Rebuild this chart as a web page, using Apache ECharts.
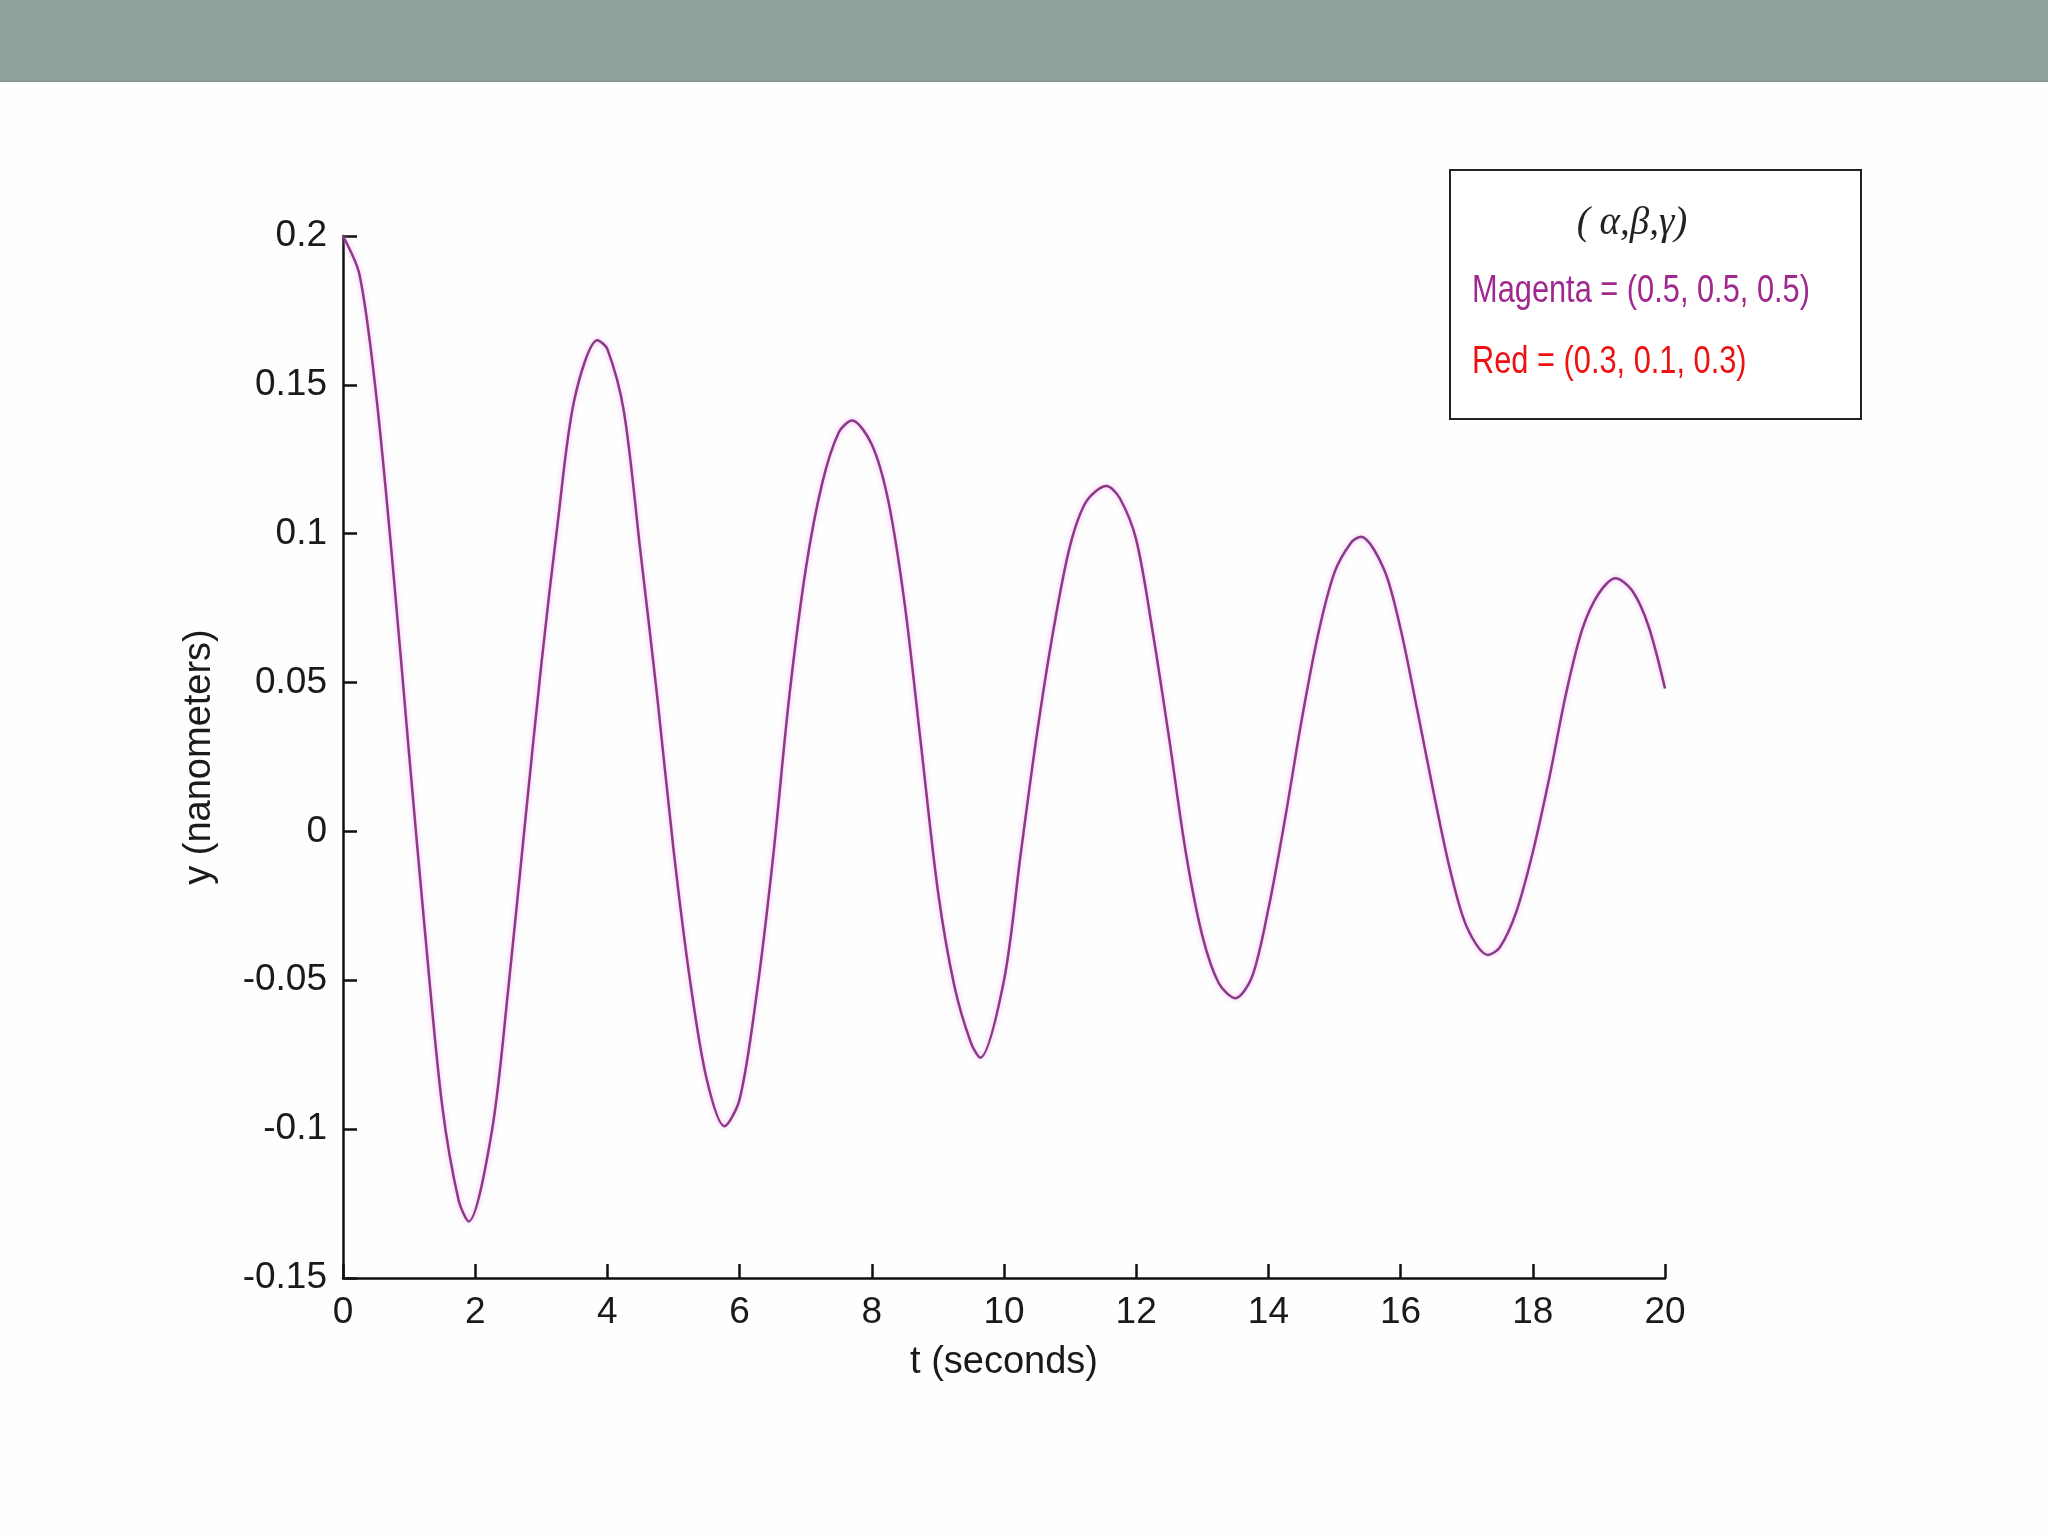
<!DOCTYPE html>
<html>
<head>
<meta charset="utf-8">
<script src="https://cdn.jsdelivr.net/npm/echarts@6/dist/echarts.min.js"></script>
<style>
html,body{margin:0;padding:0;background:#fff;}
#chart{width:2048px;height:1536px;}
</style>
</head>
<body>
<div id="chart"></div>
<script>
// time (s)
var times = [0,0.25,0.5,0.75,1.0,1.25,1.5,1.75,1.9,2.25,2.5,2.75,3.0,3.25,3.5,3.85,4.0,4.25,4.5,4.75,5.0,5.25,5.5,5.77,6.0,6.25,6.5,6.75,7.0,7.25,7.5,7.7,8.0,8.25,8.5,8.75,9.0,9.25,9.5,9.64,10.0,10.25,10.5,10.75,11.0,11.25,11.55,11.75,12.0,12.25,12.5,12.75,13.0,13.25,13.5,13.75,14.0,14.25,14.5,14.75,15.0,15.25,15.4,15.75,16.0,16.25,16.5,16.75,17.0,17.32,17.5,17.75,18.0,18.25,18.5,18.75,19.0,19.25,19.5,19.75,20.0];
// y (nanometers), magenta curve
var magentaY = [0.200,0.187,0.147,0.090,0.026,-0.036,-0.092,-0.124,-0.131,-0.101,-0.053,0.002,0.056,0.104,0.145,0.165,0.162,0.141,0.094,0.046,-0.006,-0.050,-0.083,-0.099,-0.090,-0.056,-0.010,0.045,0.088,0.117,0.134,0.138,0.130,0.111,0.076,0.028,-0.020,-0.052,-0.071,-0.076,-0.050,-0.008,0.033,0.068,0.096,0.111,0.116,0.112,0.098,0.067,0.031,-0.007,-0.035,-0.051,-0.056,-0.049,-0.026,0.004,0.037,0.066,0.087,0.097,0.099,0.088,0.068,0.041,0.013,-0.013,-0.032,-0.0415,-0.039,-0.027,-0.007,0.018,0.046,0.068,0.080,0.085,0.081,0.069,0.048];
var xTicks = [0,2,4,6,8,10,12,14,16,18,20];
var yTicks = [-0.15,-0.1,-0.05,0,0.05,0.1,0.15,0.2];
var legendTitle = '( \u03B1,\u03B2,\u03B3)';
var legendLines = ['Magenta = (0.5, 0.5, 0.5)', 'Red = (0.3, 0.1, 0.3)'];
var xName = 't (seconds)';
var yName = 'y (nanometers)';

var pts = times.map(function(t,i){return [t, magentaY[i]];});
var chart = echarts.init(document.getElementById('chart'), null, {renderer:'canvas'});
var font = '"Liberation Sans", Arial, sans-serif';
var axisCommon = {
  axisLine:{show:true,onZero:false,lineStyle:{color:'#111',width:2.5}},
  axisTick:{show:true,inside:true,length:14,lineStyle:{color:'#111',width:2.5}},
  splitLine:{show:false},
  axisLabel:{color:'#1a1a1a',fontSize:37,fontFamily:font,margin:16},
  nameTextStyle:{color:'#1a1a1a',fontSize:38,fontFamily:font}
};
chart.setOption({
  animation:false,
  backgroundColor:'#fefefe',
  grid:{left:343,top:236,right:383,bottom:258,containLabel:false},
  xAxis:Object.assign({},axisCommon,{
    type:'value',min:xTicks[0],max:xTicks[xTicks.length-1],interval:2,
    name:xName,nameLocation:'middle',nameGap:66,
    axisLabel:Object.assign({},axisCommon.axisLabel,{formatter:function(v){return String(v);}})
  }),
  yAxis:Object.assign({},axisCommon,{
    type:'value',min:yTicks[0],max:yTicks[yTicks.length-1],interval:0.05,
    name:yName,nameLocation:'middle',nameGap:124,nameRotate:90,
    axisLabel:Object.assign({},axisCommon.axisLabel,{formatter:function(v){return String(+v.toFixed(2));}})
  }),
  series:[{
    type:'line',data:pts,showSymbol:false,smooth:0.3,
    lineStyle:{color:'#8a3a86',width:2.5,shadowColor:'rgba(240,140,240,0.7)',shadowBlur:5},
    z:3
  }],
  graphic:[
    {type:'rect',x:0,y:0,shape:{x:0,y:0,width:2048,height:81},style:{fill:'#91a29a'},z:10},
    {type:'rect',x:0,y:80,shape:{x:0,y:0,width:2048,height:2},style:{fill:'#8a9891'},z:10},
    {type:'rect',x:1450,y:170,shape:{x:0,y:0,width:411,height:249},style:{fill:'#ffffff',stroke:'#222',lineWidth:2},z:10},
    {type:'text',x:1632,y:224,style:{text:legendTitle,fill:'#222',align:'center',verticalAlign:'middle',font:'italic 39px "Liberation Serif", "DejaVu Serif", serif'},z:11},
    {type:'text',x:1472,y:292,scaleX:0.81,style:{text:legendLines[0],fill:'#a0288f',align:'left',verticalAlign:'middle',font:'38px "Liberation Sans", Arial, sans-serif'},z:11},
    {type:'text',x:1472,y:363,scaleX:0.81,style:{text:legendLines[1],fill:'#ee1111',align:'left',verticalAlign:'middle',font:'38px "Liberation Sans", Arial, sans-serif'},z:11}
  ]
});
</script>
</body>
</html>
